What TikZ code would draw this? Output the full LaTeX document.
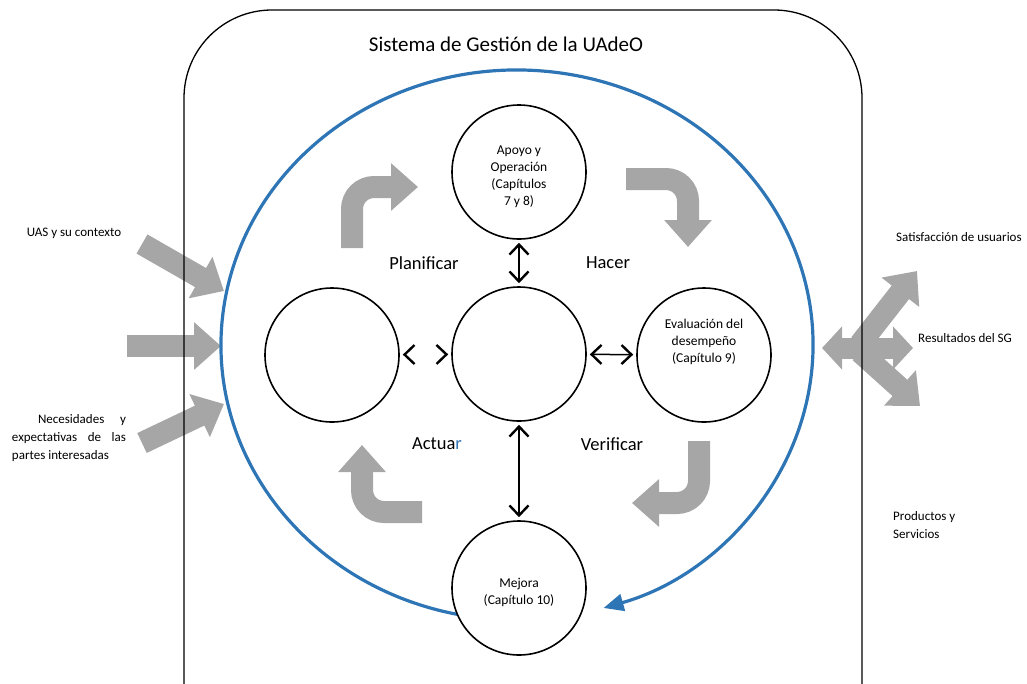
\documentclass[tikz,border=0pt]{standalone}
\usepackage{fontspec}
\setmainfont{Carlito}
\usetikzlibrary{arrows.meta}
\usetikzlibrary{positioning}

\definecolor{azulSG}{HTML}{2E75B6}
\definecolor{gris}{HTML}{A6A6A6}

\tikzset{
  circ/.style={circle, draw, line width=1.6pt, fill=white, minimum size=134pt, inner sep=0pt},
  circtxt/.style={align=center, font=\fontsize{13.5}{17}\selectfont},
  punta/.style={Straight Barb[length=10pt,width=19pt,line width=2.4pt]},
  dbl/.style={line width=1.5pt, shorten <=3pt, shorten >=3pt, {Straight Barb[length=10pt,width=19pt,line width=2.4pt]}-{Straight Barb[length=10pt,width=19pt,line width=2.4pt]}},
  dblhueco/.style={dbl, white,
    {Straight Barb[length=10pt,width=19pt,line width=2.4pt,color=black]}-{Straight Barb[length=10pt,width=19pt,line width=2.4pt,color=black]}},
  bloque/.style={gris, line width=22pt, -{Triangle[length=27pt,width=46pt]}},
  bloquecorto/.style={gris, line width=21pt, -{Triangle[length=20pt,width=42pt]}},
  fase/.style={font=\fontsize{18.5}{22}\selectfont},
  etiq/.style={font=\fontsize{13}{18}\selectfont},
}

\begin{document}
\begin{tikzpicture}[x=1pt,y=-1pt]
\useasboundingbox (0,0) rectangle (1027,683);
\clip (0,0) rectangle (1027,683);

% entradas
\coordinate (e1a) at (142,244); \coordinate (e1b) at (224,291);
\coordinate (e2a) at (127,346); \coordinate (e2b) at (221,346);
\coordinate (e3a) at (142,443); \coordinate (e3b) at (224,404);
\draw[bloque] (e1a) -- (e1b);
\draw[bloque] (e2a) -- (e2b);
\draw[bloque] (e3a) -- (e3b);

% salidas
\coordinate (nodo) at (862,348);
\coordinate (s1) at (917,271);
\coordinate (s2) at (913,348);
\coordinate (s3) at (920,406);
\coordinate (s4) at (822,348);
\draw[bloquecorto] ([xshift=18pt]nodo) -- (s4);
\draw[bloquecorto] ([xshift=-12pt]nodo) -- (s2);
\draw[bloque] ([shift={(-2pt,4pt)}]nodo) -- (s1);
\draw[bloque] ([shift={(-2pt,-4pt)}]nodo) -- (s3);

% sistema
\draw[line width=1.3pt, rounded corners=88pt] (184,10) rectangle (862,780);
\node[font=\fontsize{21}{25}\selectfont] (titulo) at (506,44) {Sistema de Gestión de la UAdeO};

% ciclo
\coordinate (centroSG) at (517,345);
\draw[azulSG, line width=3.2pt, -{Triangle[length=20pt,width=17pt]}]
  (centroSG) ++(100:296 and 275) arc[start angle=100, end angle=433, x radius=296, y radius=275];

% PHVA
\draw[bloque, rounded corners=22pt] (352,248) -- (352,187) -- (418,187);
\draw[bloque, rounded corners=22pt] (626,179) -- (688,179) -- (688,247);
\draw[bloque, rounded corners=22pt] (699,441) -- (699,503) -- (632,503);
\draw[bloque, rounded corners=22pt] (422,512) -- (362,512) -- (362,445);

\node[circ, label={[circtxt, yshift=-5pt]center:{Apoyo y\\Operación\\(Capítulos\\7 y 8)}}] (apoyo) at (519,172) {};
\node[circ] (centro) at (519,354) {};
\node[circ] (izq) at (332,355) {};
\node[circ, label={[circtxt, yshift=13pt]center:{Evaluación del\\desempeño\\(Capítulo 9)}}] (eval) at (704,355) {};
\node[circ, label={[circtxt, yshift=-4pt]center:{Mejora\\(Capítulo 10)}}] (mejora) at (519,588) {};

\draw[dbl] (apoyo) -- (centro);
\draw[dblhueco] (izq) -- (centro);
\draw[dbl] (centro) -- (eval);
\draw[dbl] (centro) -- (mejora);

\node[fase] (planificar) at (424,263) {Planificar};
\node[fase] (hacer) at (608,263) {Hacer};
\node[fase] (actuar) at (437,444) {Actua\textcolor{azulSG}{r}};
\node[fase] (verificar) at (612,444) {Verificar};

% textos de fuera
\node[etiq] (uas) at (74,233) {UAS y su contexto};
\node[etiq, align=left, inner sep=0pt] (necesidades) at (69,438)
  {\makebox[114pt][s]{\hspace*{26pt}Necesidades y}\\
   \makebox[114pt][s]{expectativas de las}\\
   partes interesadas};
\node[etiq, anchor=west, inner sep=0pt] (satisf) at (896,237) {Satisfacción de usuarios};
\node[etiq, anchor=west, inner sep=0pt] (result) at (918,338) {Resultados del SG};
\node[etiq, anchor=north west, align=left, inner sep=0pt] (productos) at (893,511) {Productos y\\Servicios};
\end{tikzpicture}
\end{document}
